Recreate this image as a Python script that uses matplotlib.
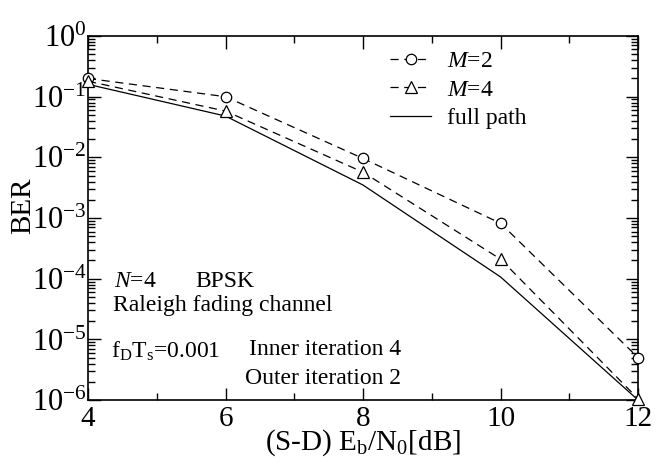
import matplotlib
matplotlib.use("Agg")
import matplotlib.pyplot as plt
from matplotlib.ticker import LogLocator, LogFormatterMathtext, MultipleLocator, NullFormatter

plt.rcParams['font.family'] = ['Liberation Serif', 'DejaVu Serif']
plt.rcParams['mathtext.fontset'] = 'custom'
plt.rcParams['mathtext.rm'] = 'Liberation Serif'
plt.rcParams['mathtext.it'] = 'Liberation Serif:italic'

snr = [4, 6, 8, 10, 12]
ber_m2 = [0.20, 0.10, 0.0096, 8.2e-4, 5.0e-6]
ber_m4 = [0.18, 0.058, 0.0057, 2.1e-4, 1.05e-6]
ber_full = [0.16, 0.048, 0.0035, 1.07e-4, 1.0e-6]

fig = plt.figure(figsize=(6.64, 4.62), dpi=100)
ax = fig.add_axes([0.1325, 0.134, 0.8285, 0.788])

dash = (0, (6.5, 4.5))
ax.plot(snr, ber_m2, color='black', lw=0.9, linestyle=dash, marker='o', ms=7.5,
        mfc='white', mec='black', mew=0.9, label=r'$\mathit{M}$=2', clip_on=False, zorder=3)
ax.plot(snr, ber_m4, color='black', lw=0.9, linestyle=dash, marker='^', ms=8,
        mfc='white', mec='black', mew=0.9, label=r'$\mathit{M}$=4', clip_on=False, zorder=3)
ax.plot(snr, ber_full, color='black', lw=0.9, linestyle='-', label='full path', clip_on=False, zorder=2)

ax.set_yscale('log')
ax.set_xlim(4, 12)
ax.set_ylim(1e-6, 1)
ax.xaxis.set_major_locator(MultipleLocator(2))
ax.xaxis.set_minor_locator(MultipleLocator(1))
ax.yaxis.set_major_locator(LogLocator(base=10, numticks=10))
ax.yaxis.set_minor_locator(LogLocator(base=10, subs=range(2, 10), numticks=20))
ax.yaxis.set_major_formatter(LogFormatterMathtext())
ax.yaxis.set_minor_formatter(NullFormatter())

ax.tick_params(which='both', direction='in', top=True, right=True, width=1.0, colors='black')
ax.tick_params(which='major', length=9)
ax.tick_params(which='minor', length=5)
ax.tick_params(axis='x', which='major', labelsize=21, pad=4)
ax.tick_params(axis='y', which='major', labelsize=22, pad=1)
for s in ax.spines.values():
    s.set_linewidth(1.2)

ax.set_xlabel(r'(S-D) E$_\mathrm{b}$/N$_\mathrm{0}$[dB]', fontsize=21, labelpad=-3)
ax.set_ylabel('BER', fontsize=21)
ax.yaxis.set_label_coords(-0.095, 0.533)

leg = ax.legend(loc='upper left', bbox_to_anchor=(0.549, 0.96), frameon=False, fontsize=17,
                handlelength=1.75, handletextpad=0.68, labelspacing=0.3, borderaxespad=0,
                borderpad=0)

fs = 17
ax.text(4.38, 10**-4.04, r'$\mathit{N}$=4', fontsize=fs, va='center', ha='left')
ax.text(5.56, 10**-4.04, 'BPSK', fontsize=fs, va='center', ha='left')
ax.text(4.36, 10**-4.44, 'Raleigh fading channel', fontsize=fs, va='center', ha='left')
ax.text(4.34, 10**-5.2, r'f$_\mathrm{D}$T$_\mathrm{s}$=0.001', fontsize=fs, va='center', ha='left')
ax.text(6.34, 10**-5.16, 'Inner iteration 4', fontsize=fs, va='center', ha='left')
ax.text(6.28, 10**-5.65, 'Outer iteration 2', fontsize=fs, va='center', ha='left')

fig.savefig('out.png', dpi=100)
